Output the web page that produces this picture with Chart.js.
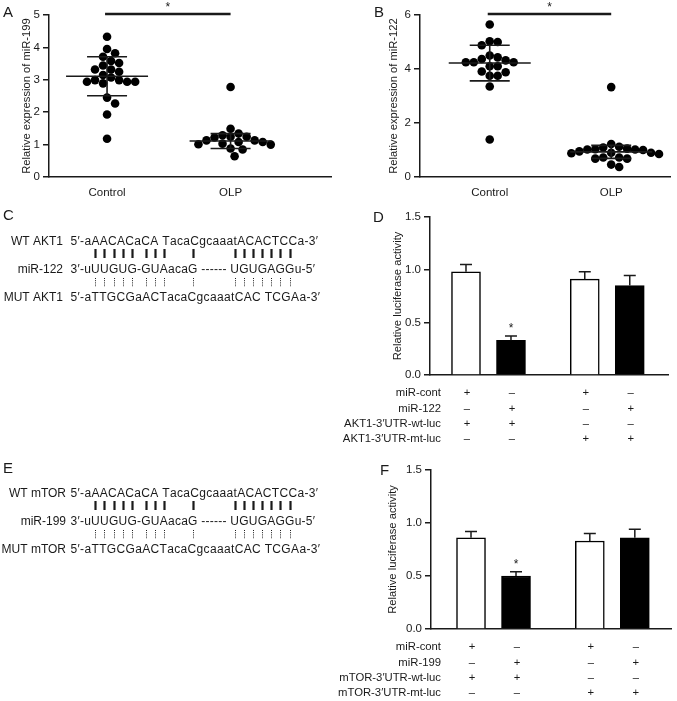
<!DOCTYPE html>
<html lang="en">
<head>
<meta charset="UTF-8" />
<title>miR-199 / miR-122 figure</title>
<script src="https://cdn.jsdelivr.net/npm/chart.js"></script>
<style>
    html, body { margin: 0; padding: 0; background: #fff; }
    body {
        width: 677px; height: 701px; position: relative; overflow: hidden;
        font-family: "Liberation Sans", Arial, sans-serif; color: #1a1a1a;
    }
    .panel { position: absolute; }
    .letter { position: absolute; font-size: 15px; line-height: 18px; }
</style>
</head>
<body>
<canvas id="chartA" class="panel" width="338" height="200" style="left:0;top:0"></canvas>
<canvas id="chartB" class="panel" width="339" height="200" style="left:338px;top:0"></canvas>
<canvas id="seqC" class="panel" width="338" height="110" style="left:0;top:200px"></canvas>
<canvas id="chartD" class="panel" width="339" height="250" style="left:338px;top:200px"></canvas>
<canvas id="seqE" class="panel" width="338" height="110" style="left:0;top:452px"></canvas>
<canvas id="chartF" class="panel" width="339" height="251" style="left:338px;top:450px"></canvas>

<div class="letter" style="left:3px;top:3px">A</div>
<div class="letter" style="left:374px;top:3px">B</div>
<div class="letter" style="left:3px;top:206px">C</div>
<div class="letter" style="left:373px;top:208px">D</div>
<div class="letter" style="left:3px;top:459px">E</div>
<div class="letter" style="left:380px;top:461px">F</div>

<script>
// ---- data ----
const groups = ["Control", "OLP"];

const mir199Control = [4.33, 3.95, 3.82, 3.71, 3.58, 3.52, 3.44, 3.32, 3.32, 3.25, 3.15,
    3.07, 2.99, 2.99, 2.94, 2.94, 2.94, 2.89, 2.45, 2.27, 1.93, 1.18];
const mir199OLP = [2.78, 1.49, 1.34, 1.29, 1.24, 1.24, 1.22, 1.13, 1.13, 1.08, 1.08,
    1.03, 1.01, 1.0, 0.88, 0.85, 0.64];
const mir199Mean = [3.11, 1.11];
const mir199SD = [0.60, 0.23];

const mir122Control = [5.65, 5.03, 5.0, 4.88, 4.5, 4.43, 4.37, 4.32, 4.25, 4.25, 4.25,
    4.1, 4.1, 3.91, 3.88, 3.75, 3.75, 3.35, 1.39];
const mir122OLP = [3.33, 1.22, 1.12, 1.09, 1.05, 1.03, 1.02, 1.02, 1.0, 0.95, 0.9, 0.9,
    0.88, 0.85, 0.72, 0.72, 0.68, 0.68, 0.46, 0.37];
const mir122Mean = [4.22, 0.93];
const mir122SD = [0.66, 0.24];

const aktLuc = [0.98, 0.33, 0.91, 0.85];
const aktLucErr = [0.07, 0.04, 0.07, 0.095];
const mtorLuc = [0.86, 0.50, 0.83, 0.86];
const mtorLucErr = [0.06, 0.04, 0.07, 0.08];

const aktRows = ["miR-cont", "miR-122", "AKT1-3\u2032UTR-wt-luc", "AKT1-3\u2032UTR-mt-luc"];
const mtorRows = ["miR-cont", "miR-199", "mTOR-3\u2032UTR-wt-luc", "mTOR-3\u2032UTR-mt-luc"];
const treatmentSigns = [
    ["+", "\u2013", "+", "\u2013"],
    ["\u2013", "+", "\u2013", "+"],
    ["+", "+", "\u2013", "\u2013"],
    ["\u2013", "\u2013", "+", "+"],
];

const wtAkt1 = "5\u2032-aAACACaCA TacaCgcaaatACACTCCa-3\u2032";
const mir122Seq = "3\u2032-uUUGUG-GUAacaG ------ UGUGAGGu-5\u2032";
const mutAkt1 = "5\u2032-aTTGCGaACTacaCgcaaatCAC TCGAa-3\u2032";
const wtMtor = "5\u2032-aAACACaCA TacaCgcaaatACACTCCa-3\u2032";
const mir199Seq = "3\u2032-uUUGUG-GUAacaG ------ UGUGAGGu-5\u2032";
const mutMtor = "5\u2032-aTTGCGaACTacaCgcaaatCAC TCGAa-3\u2032";
const pairedBases = [4, 5, 6, 7, 8, 10, 11, 12, 16, 25, 26, 27, 28, 29, 30, 31];

// ---- helpers ----
const INK = "#1a1a1a";
const FONT = '"Liberation Sans", Arial, sans-serif';

// simple beeswarm: top-down, nudge sideways until no overlap (pixel space)
function swarm(values, center, pxPerY, pxPerX, gap) {
    const placed = [];
    const out = [];
    const order = values.map((v, i) => i).sort((a, b) => values[b] - values[a]);
    for (const i of order) {
        const py = values[i] * pxPerY;
        let off = 0;
        for (let k = 0; k < 60; k++) {
            const cand = (k % 2 ? 1 : -1) * Math.ceil(k / 2) * gap / 2;
            if (placed.every(p => (p.x - cand) ** 2 + (p.y - py) ** 2 >= gap * gap)) {
                off = cand;
                break;
            }
        }
        placed.push({ x: off, y: py });
        out[i] = { x: center + off / pxPerX, y: values[i] };
    }
    return out;
}

function yAxis(min, max, step, title, width, digits) {
    return {
        min: min, max: max,
        ticks: {
            stepSize: step, color: INK, padding: 3,
            font: { family: FONT, size: 11.5 },
            callback: v => v.toFixed(digits),
        },
        grid: { display: true, drawOnChartArea: false, drawTicks: true, tickLength: 6, color: INK, lineWidth: 1.5 },
        border: { color: INK, width: 1.5 },
        title: { display: true, text: title, color: INK, padding: 0, font: { family: FONT, size: 11.2 } },
        afterFit: s => { s.width = width; },
    };
}

const meanSdPlugin = {
    id: "meanSd",
    afterDatasetsDraw(chart, args, opts) {
        const { ctx, scales: { x, y }, chartArea } = chart;
        ctx.save();
        ctx.strokeStyle = INK;
        ctx.lineWidth = 1.6;
        opts.mean.forEach((m, i) => {
            const cx = x.getPixelForValue(i + 1);
            const ym = y.getPixelForValue(m);
            const yt = y.getPixelForValue(m + opts.sd[i]);
            const yb = y.getPixelForValue(m - opts.sd[i]);
            ctx.beginPath();
            ctx.moveTo(cx - 41, ym); ctx.lineTo(cx + 41, ym);
            ctx.moveTo(cx - 20, yt); ctx.lineTo(cx + 20, yt);
            ctx.moveTo(cx - 20, yb); ctx.lineTo(cx + 20, yb);
            ctx.moveTo(cx, yt); ctx.lineTo(cx, yb);
            ctx.stroke();
        });
        // significance bar between the groups
        const x1 = x.getPixelForValue(1) - 2, x2 = x.getPixelForValue(2);
        const yb = chartArea.top - 1;
        ctx.lineWidth = 2.6;
        ctx.beginPath();
        ctx.moveTo(x1, yb); ctx.lineTo(x2, yb);
        ctx.stroke();
        ctx.fillStyle = INK;
        ctx.font = "12px " + FONT;
        ctx.textAlign = "center";
        ctx.textBaseline = "middle";
        ctx.fillText("*", (x1 + x2) / 2, yb - 6);
        ctx.restore();
    },
};

function scatterChart(id, control, olp, mean, sd, yMax, yStep, title, xMin, xMax, pxY, pxX, padLeft, yWidth) {
    return new Chart(document.getElementById(id), {
        type: "scatter",
        data: {
            datasets: [
                { data: swarm(control, 1, pxY, pxX, 8) },
                { data: swarm(olp, 2, pxY, pxX, 8) },
            ],
        },
        options: {
            responsive: false, animation: false, devicePixelRatio: 1,
            layout: { padding: { left: padLeft, top: 15, right: 7, bottom: 0 } },
            elements: { point: { radius: 4.3, backgroundColor: "#000", borderWidth: 0 } },
            plugins: { legend: { display: false }, tooltip: { enabled: false }, meanSd: { mean: mean, sd: sd } },
            scales: {
                x: {
                    type: "linear", min: xMin, max: xMax,
                    afterBuildTicks: s => { s.ticks = groups.map((g, i) => ({ value: i + 1 })); },
                    ticks: { color: INK, padding: 1, font: { family: FONT, size: 11.5 }, callback: v => groups[v - 1] },
                    grid: { display: false },
                    border: { color: INK, width: 1.5 },
                    afterFit: s => { s.height = 23; },
                },
                y: yAxis(0, yMax, yStep, title, yWidth, 0),
            },
        },
        plugins: [meanSdPlugin],
    });
}

const PAIR_GAP = 0.64; // extra room between the wt pair and the mt pair of bars
const barX = i => i + (i > 1 ? PAIR_GAP : 0);

const barExtrasPlugin = {
    id: "barExtras",
    afterDatasetsDraw(chart, args, opts) {
        const { ctx, scales: { x, y }, chartArea } = chart;
        ctx.save();
        ctx.strokeStyle = INK;
        ctx.fillStyle = INK;
        ctx.lineWidth = 1.5;
        opts.values.forEach((v, i) => {
            const cx = x.getPixelForValue(barX(i));
            const y0 = y.getPixelForValue(v);
            const y1 = y.getPixelForValue(v + opts.err[i]);
            ctx.beginPath();
            ctx.moveTo(cx, y0); ctx.lineTo(cx, y1);
            ctx.moveTo(cx - 6, y1); ctx.lineTo(cx + 6, y1);
            ctx.stroke();
            if (i === opts.starAt) {
                ctx.font = "12px " + FONT;
                ctx.textAlign = "center";
                ctx.textBaseline = "middle";
                ctx.fillText("*", cx, y1 - 7);
            }
        });
        // treatment table under the axis
        ctx.font = "11.3px " + FONT;
        ctx.textBaseline = "middle";
        opts.rows.forEach((label, r) => {
            const ry = chartArea.bottom + 18 + r * 15.4;
            ctx.textAlign = "right";
            ctx.fillText(label, opts.labelRight, ry);
            ctx.textAlign = "center";
            treatmentSigns[r].forEach((s, i) => ctx.fillText(s, x.getPixelForValue(barX(i)) + 1, ry));
        });
        ctx.restore();
    },
};

function barChart(id, values, err, rows, xMin, xMax, pad, yWidth, xHeight) {
    return new Chart(document.getElementById(id), {
        type: "bar",
        data: {
            datasets: [{
                data: values.map((v, i) => ({ x: barX(i), y: v })),
                backgroundColor: ["#fff", "#000", "#fff", "#000"],
                borderColor: "#000",
                borderWidth: 1.5,
                barThickness: 29,
            }],
        },
        options: {
            responsive: false, animation: false, devicePixelRatio: 1,
            layout: { padding: pad },
            plugins: {
                legend: { display: false }, tooltip: { enabled: false },
                barExtras: { values: values, err: err, rows: rows, starAt: 1, labelRight: 103 },
            },
            scales: {
                x: {
                    type: "linear", min: xMin, max: xMax, offset: false,
                    ticks: { display: false },
                    grid: { display: false },
                    border: { color: INK, width: 1.5 },
                    afterFit: s => { s.height = xHeight; },
                },
                y: yAxis(0, 1.5, 0.5, "Relative luciferase activity", yWidth, 1),
            },
        },
        plugins: [barExtrasPlugin],
    });
}

// draw a string so it spans x0..x1, return the centre of every character
function spreadText(ctx, text, x0, x1, y) {
    const chars = [...text];
    const widths = chars.map(c => ctx.measureText(c).width);
    const total = widths.reduce((a, b) => a + b, 0);
    const gap = (x1 - x0 - total) / (chars.length - 1);
    const centers = [];
    let x = x0;
    chars.forEach((c, i) => {
        ctx.fillText(c, x, y);
        centers.push(x + widths[i] / 2);
        x += widths[i] + gap;
    });
    return centers;
}

function drawAlignment(id, names, seqs, labelRight) {
    const ctx = document.getElementById(id).getContext("2d");
    const rowY = [42, 70, 98];
    const ends = [318, 315, 320];
    ctx.fillStyle = INK;
    ctx.strokeStyle = INK;
    ctx.font = "12px " + FONT;
    ctx.textBaseline = "middle";
    ctx.textAlign = "right";
    names.forEach((n, r) => ctx.fillText(n, labelRight, rowY[r]));
    ctx.textAlign = "left";
    const centers = seqs.map((s, r) => spreadText(ctx, s, 70.5, ends[r], rowY[r]));
    pairedBases.forEach(k => {
        const x = Math.round(centers[1][k]) + 0.5;
        ctx.lineWidth = 2.2;
        ctx.setLineDash([]);
        ctx.beginPath();
        ctx.moveTo(x, rowY[0] + 7); ctx.lineTo(x, rowY[1] - 12);
        ctx.stroke();
        ctx.lineWidth = 1;
        ctx.setLineDash([1, 1.2]);
        ctx.beginPath();
        ctx.moveTo(x, rowY[1] + 8); ctx.lineTo(x, rowY[2] - 11);
        ctx.stroke();
    });
}

scatterChart("chartA", mir199Control, mir199OLP, mir199Mean, mir199SD, 5, 1,
    "Relative expression of miR-199", 0.53, 2.813, 32.4, 123, 20, 29);
scatterChart("chartB", mir122Control, mir122OLP, mir122Mean, mir122SD, 6, 2,
    "Relative expression of miR-122", 0.426, 2.484, 26.8, 122, 49, 33);

barChart("chartD", aktLuc, aktLucErr, aktRows, -0.8, 4.49,
    { left: 53, top: 17, right: 9, bottom: 0 }, 39, 75);
barChart("chartF", mtorLuc, mtorLucErr, mtorRows, -0.889, 4.444,
    { left: 48, top: 20, right: 6, bottom: 0 }, 45, 72);

drawAlignment("seqC", ["WT AKT1", "miR-122", "MUT AKT1"], [wtAkt1, mir122Seq, mutAkt1], 63);
drawAlignment("seqE", ["WT mTOR", "miR-199", "MUT mTOR"], [wtMtor, mir199Seq, mutMtor], 66);
</script>
</body>
</html>
